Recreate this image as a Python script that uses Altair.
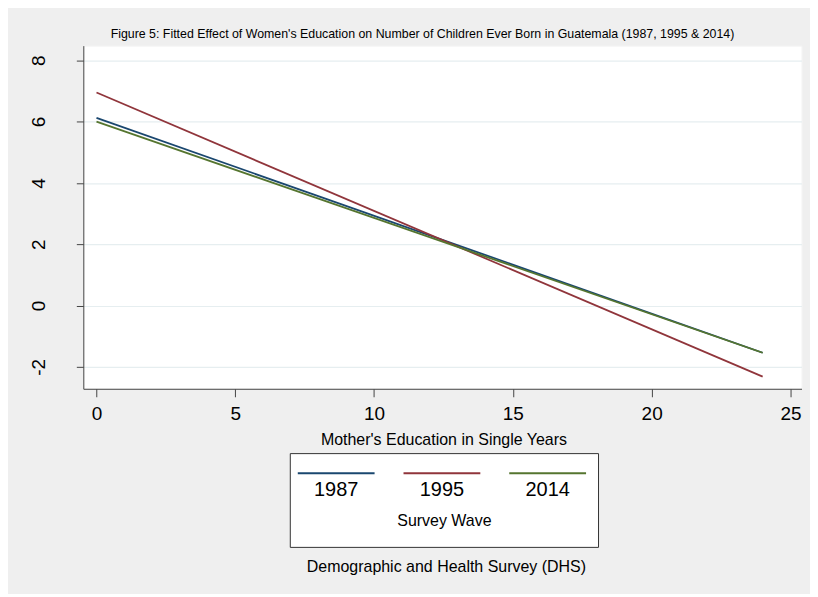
import altair as alt
import pandas as pd

# ---- data (straight fitted lines) ----
waves = ["1987", "1995", "2014"]
edu_start = [0, 0, 0]
edu_end = [24, 24, 24]
fit_start = [6.12, 6.95, 6.00]
fit_end = [-1.54, -2.32, -1.54]
wave_colors = ["#1a476f", "#90353b", "#55752f"]

x_ticks = [0, 5, 10, 15, 20, 25]
y_ticks = [-2, 0, 2, 4, 6, 8]

rows = []
for w, x0, x1, y0, y1 in zip(waves, edu_start, edu_end, fit_start, fit_end):
    rows.append({"wave": w, "edu": x0, "fit": y0})
    rows.append({"wave": w, "edu": x1, "fit": y1})
df = pd.DataFrame(rows)

FONT = "Liberation Sans"

lines = alt.Chart(df).mark_line(strokeWidth=1.8).encode(
    x=alt.X(
        "edu:Q",
        scale=alt.Scale(domain=[-0.475, 25.4], nice=False, zero=False),
        axis=alt.Axis(
            values=x_ticks,
            title="Mother's Education in Single Years",
            titleFontSize=16,
            titleFontWeight="normal",
            titleColor="#000000",
            titleFont=FONT,
            titleBaseline="alphabetic",
            titleY=56,
            titleX=361,
            titleAlign="center",
            labelFontSize=19,
            labelFont=FONT,
            labelColor="#000000",
            labelPadding=8,
            tickSize=8,
            tickColor="#444444",
            domainColor="#444444",
            grid=False,
        ),
    ),
    y=alt.Y(
        "fit:Q",
        scale=alt.Scale(domain=[-2.716, 8.478], nice=False, zero=False),
        axis=alt.Axis(
            values=y_ticks,
            title="",
            labelExpr="toString(datum.value)",
            labelFontSize=19,
            labelFont=FONT,
            labelColor="#000000",
            labelAngle=270,
            labelAlign="center",
            labelBaseline="alphabetic",
            labelPadding=32,
            tickSize=7,
            tickColor="#444444",
            domainColor="#444444",
            grid=True,
            gridColor="#e6eef0",
            gridWidth=1.2,
        ),
    ),
    color=alt.Color(
        "wave:N",
        scale=alt.Scale(domain=waves, range=wave_colors),
        legend=alt.Legend(
            orient="none",
            legendX=207,
            legendY=408.5,
            direction="horizontal",
            symbolType="M-3.5,0H3.5",
            symbolSize=484,
            symbolStrokeWidth=2,
            symbolOffset=26.5,
            labelFontSize=20,
            labelFont=FONT,
            labelColor="#000000",
            labelAlign="center",
            labelBaseline="top",
            labelOffset={"expr": "-12"},
            labelExpr="['', datum.label]",
            columnPadding=21,
            title=["Survey Wave", ""],
            titleLineHeight=10,
            titleOrient="bottom",
            titleAnchor="middle",
            titleFontSize=16,
            titleFont=FONT,
            titleFontWeight="normal",
            titleColor="#000000",
            titlePadding=13,
            strokeColor="#333333",
            fillColor="#ffffff",
            padding=8,
        ),
    ),
)

inner = lines.properties(
    width=720,
    height=344,
    title=alt.TitleParams(
        "Figure 5: Fitted Effect of Women's Education on Number of Children Ever Born in Guatemala (1987, 1995 & 2014)",
        fontSize=12.4,
        font=FONT,
        fontWeight="normal",
        color="#000000",
        anchor="middle",
        frame="group",
        dx=-20,
        offset=5,
    ),
)

chart = alt.vconcat(
    inner,
    title=alt.TitleParams(
        "Demographic and Health Survey (DHS)",
        orient="bottom",
        fontSize=16,
        font=FONT,
        fontWeight="normal",
        color="#000000",
        anchor="middle",
        offset=12,
        dx=31,
    ),
).properties(
    background="#efefef",
    padding={"left": 20.5, "top": 19, "right": 7.5, "bottom": 18},
).configure(
    style={"guide-label": {"lineHeight": 6.5}},
).configure_view(
    fill="#ffffff",
    stroke="#f4f4f4",
)

chart.save("out.html", embed_options={"renderer": "svg", "actions": False})
